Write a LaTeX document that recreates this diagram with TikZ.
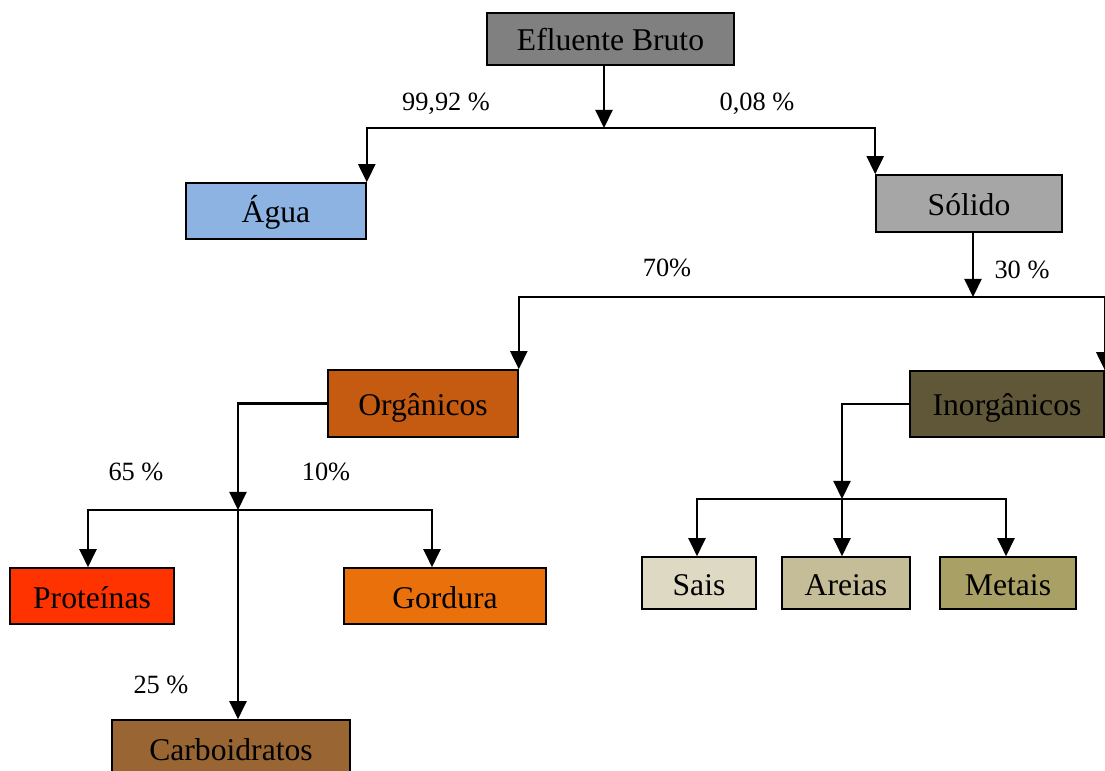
\documentclass[tikz,border=0pt]{standalone}
\usepackage{fontspec}
\setmainfont{Liberation Serif}
\usetikzlibrary{arrows.meta}
\definecolor{efluente}{RGB}{128,128,128}
\definecolor{agua}{RGB}{141,179,226}
\definecolor{solido}{RGB}{166,166,166}
\definecolor{organico}{RGB}{197,90,17}
\definecolor{inorganico}{RGB}{96,87,56}
\definecolor{proteina}{RGB}{255,51,0}
\definecolor{gordura}{RGB}{234,112,12}
\definecolor{carboidrato}{RGB}{153,102,51}
\definecolor{sais}{RGB}{221,217,195}
\definecolor{areias}{RGB}{196,189,151}
\definecolor{metais}{RGB}{169,160,102}

\begin{document}
\begin{tikzpicture}[>={Triangle[length=0.36cm,width=0.34cm]},
  box/.style={draw,line width=0.9pt,inner sep=0pt,minimum height=1.12cm,text height=0.58cm,text depth=0.1cm,font=\fontsize{18}{20}\selectfont},
  pct/.style={font=\fontsize{15}{17}\selectfont},
  link/.style={line width=1.2pt}]
  \clip (0,0) rectangle (22.1,-15.42);
  % boxes
  \node[box,fill=efluente,minimum width=4.94cm,minimum height=1.04cm] (efl) at (12.21,-0.78) {Efluente Bruto};
  \node[box,fill=agua,minimum width=3.6cm] (agua) at (5.52,-4.22) {Água};
  \node[box,fill=solido,minimum width=3.72cm,minimum height=1.14cm] (sol) at (19.38,-4.07) {Sólido};
  \node[box,fill=organico,minimum width=3.8cm,minimum height=1.34cm] (org) at (8.46,-8.07) {Orgânicos};
  \node[box,fill=inorganico,minimum width=3.88cm,minimum height=1.32cm] (inorg) at (20.14,-8.08) {Inorgânicos};
  \node[box,fill=proteina,minimum width=3.28cm] (prot) at (1.84,-11.92) {Proteínas};
  \node[box,fill=gordura,minimum width=4.04cm] (gord) at (8.9,-11.92) {Gordura};
  \node[box,fill=carboidrato,minimum width=4.76cm] (carb) at (4.62,-14.96) {Carboidratos};
  \node[box,fill=sais,minimum width=2.28cm,minimum height=1.04cm] (sais) at (13.98,-11.66) {Sais};
  \node[box,fill=areias,minimum width=2.56cm,minimum height=1.04cm] (areias) at (16.92,-11.66) {Areias};
  \node[box,fill=metais,minimum width=2.72cm,minimum height=1.04cm] (metais) at (20.16,-11.66) {Metais};
  % junctions
  \coordinate (j1) at (12.08,-2.56);
  \coordinate (j2) at (19.46,-5.94);
  \coordinate (j3) at (4.76,-10.2);
  \coordinate (j4) at (16.84,-9.98);
  % connectors
  \draw[link,->] (efl.south -| j1) -- (j1);
  \draw[link,->] (j1) -| (agua.north east);
  \draw[link,->] (j1) -| (sol.north west);
  \draw[link,->] (sol.south -| j2) -- (j2);
  \draw[link,->] (j2) -| (org.north east);
  \draw[link,->] (j2) -| (inorg.north east);
  \draw[link,->] (org.west) -| (j3);
  \draw[link,->] (j3) -| ([xshift=-0.08cm]prot.north);
  \draw[link,->] (j3) -| ([xshift=-0.26cm]gord.north);
  \draw[link,->] (j3) -- (carb.north -| j3);
  \draw[link,->] (inorg.west) -| (j4);
  \draw[link,->] (j4) -| ([xshift=-0.04cm]sais.north);
  \draw[link,->] (j4) -- (areias.north -| j4);
  \draw[link,->] (j4) -| ([xshift=-0.04cm]metais.north);
  % percentages
  \node[pct] (p1) at (8.92,-2.08) {99,92 \%};
  \node[pct] (p2) at (15.14,-2.08) {0,08 \%};
  \node[pct] (p3) at (13.34,-5.36) {70\%};
  \node[pct] (p4) at (20.44,-5.40) {30 \%};
  \node[pct] (p5) at (2.72,-9.44) {65 \%};
  \node[pct] (p6) at (6.52,-9.44) {10\%};
  \node[pct] (p7) at (3.22,-13.70) {25 \%};
\end{tikzpicture}
\end{document}
